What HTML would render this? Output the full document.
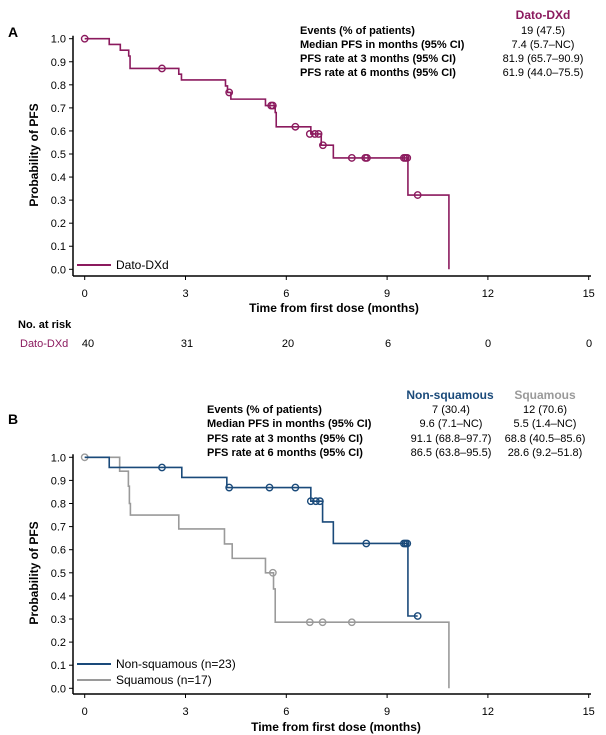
<!DOCTYPE html>
<html><head><meta charset="utf-8"><style>
html,body{margin:0;padding:0;background:#fff}
svg{display:block;font-family:"Liberation Sans",Arial,sans-serif}
.b{font-weight:bold}
</style></head><body>
<svg id="s" width="606" height="735" viewBox="0 0 606 735" xmlns="http://www.w3.org/2000/svg">
<rect width="606" height="735" fill="#fff"/>
<!-- Panel A -->
<text x="8" y="37" font-size="14" class="b">A</text>
<text x="543" y="19" font-size="12" class="b" fill="#8b1a5e" text-anchor="middle">Dato-DXd</text>
<g font-size="11" class="b">
<text x="300" y="34">Events (% of patients)</text>
<text x="300" y="48">Median PFS in months (95% CI)</text>
<text x="300" y="62">PFS rate at 3 months (95% CI)</text>
<text x="300" y="76">PFS rate at 6 months (95% CI)</text>
</g>
<g font-size="11" text-anchor="middle">
<text x="543" y="34">19 (47.5)</text>
<text x="543" y="48">7.4 (5.7–NC)</text>
<text x="543" y="62">81.9 (65.7–90.9)</text>
<text x="543" y="76">61.9 (44.0–75.5)</text>
</g>
<g id="axA"></g>
<text x="38" y="155" font-size="12" class="b" text-anchor="middle" transform="rotate(-90 38 155)">Probability of PFS</text>
<text x="334" y="312" font-size="12" class="b" text-anchor="middle">Time from first dose (months)</text>
<line x1="77" y1="265" x2="111" y2="265" stroke="#8b1a5e" stroke-width="2"/>
<text x="116" y="269" font-size="12">Dato-DXd</text>
<text x="18" y="328" font-size="11" class="b">No. at risk</text>
<text x="20" y="347" font-size="11" fill="#8b1a5e">Dato-DXd</text>
<g font-size="11" text-anchor="middle">
<text x="88" y="347">40</text><text x="187" y="347">31</text><text x="288" y="347">20</text>
<text x="388" y="347">6</text><text x="488" y="347">0</text><text x="589" y="347">0</text>
</g>
<!-- Panel B -->
<text x="8" y="424" font-size="14" class="b">B</text>
<text x="450" y="399" font-size="12" class="b" fill="#1a4a7a" text-anchor="middle">Non-squamous</text>
<text x="545" y="399" font-size="12" class="b" fill="#9a9a9a" text-anchor="middle">Squamous</text>
<g font-size="11" class="b">
<text x="207" y="413">Events (% of patients)</text>
<text x="207" y="427">Median PFS in months (95% CI)</text>
<text x="207" y="442">PFS rate at 3 months (95% CI)</text>
<text x="207" y="456">PFS rate at 6 months (95% CI)</text>
</g>
<g font-size="11" text-anchor="middle">
<text x="451" y="413">7 (30.4)</text><text x="545" y="413">12 (70.6)</text>
<text x="451" y="427">9.6 (7.1–NC)</text><text x="545" y="427">5.5 (1.4–NC)</text>
<text x="451" y="442">91.1 (68.8–97.7)</text><text x="545" y="442">68.8 (40.5–85.6)</text>
<text x="451" y="456">86.5 (63.8–95.5)</text><text x="545" y="456">28.6 (9.2–51.8)</text>
</g>
<g id="axB"></g>
<text x="38" y="573" font-size="12" class="b" text-anchor="middle" transform="rotate(-90 38 573)">Probability of PFS</text>
<text x="336" y="731" font-size="12" class="b" text-anchor="middle">Time from first dose (months)</text>
<line x1="77" y1="664" x2="111" y2="664" stroke="#1a4a7a" stroke-width="2"/>
<text x="116" y="668" font-size="12">Non-squamous (n=23)</text>
<line x1="77" y1="680" x2="111" y2="680" stroke="#9a9a9a" stroke-width="2"/>
<text x="116" y="684" font-size="12">Squamous (n=17)</text>
</svg>
<script>
var NS="http://www.w3.org/2000/svg";
function el(p,t,a){var e=document.createElementNS(NS,t);for(var k in a)e.setAttribute(k,a[k]);p.appendChild(e);return e;}
function axes(g,y1,y0,ab){
  var X=function(m){return 84.7+33.6*m;},Y=function(v){return y0-(y0-y1)*v;};
  el(g,"line",{x1:73,y1:y1-3,x2:73,y2:ab,stroke:"#000","stroke-width":1.5});
  el(g,"line",{x1:73,y1:ab,x2:591,y2:ab,stroke:"#000","stroke-width":1.5});
  for(var i=0;i<=10;i++){var y=Y(i/10);
    el(g,"line",{x1:69,y1:y,x2:73,y2:y,stroke:"#000","stroke-width":1});
    var t=el(g,"text",{x:66,y:y+4,"font-size":11,"text-anchor":"end"});t.textContent=(i/10).toFixed(1);}
  for(var m=0;m<=15;m+=3){var x=X(m);
    el(g,"line",{x1:x,y1:ab,x2:x,y2:ab+4,stroke:"#000","stroke-width":1});
    var t=el(g,"text",{x:x,y:ab+21,"font-size":11,"text-anchor":"middle"});t.textContent=m;}
  return [X,Y];
}
function curve(g,f,steps,end,cens,col){
  var X=f[0],Y=f[1],v=1,d="M"+X(0)+","+Y(1);
  steps.forEach(function(s){d+="H"+X(s[0])+"V"+Y(s[1]);v=s[1];});
  d+="H"+X(end);
  el(g,"path",{d:d,fill:"none",stroke:col,"stroke-width":1.6});
  cens.forEach(function(c){el(g,"circle",{cx:X(c[0]),cy:Y(c[1]),r:3.2,fill:"none",stroke:col,"stroke-width":1.4});});
}
var gA=document.getElementById("axA"),fA=axes(gA,38.7,269.3,276);
curve(gA,fA,[[0.73,0.975],[1.06,0.95],[1.31,0.925],[1.35,0.871],[2.8,0.846],[2.88,0.821],[4.19,0.795],[4.25,0.767],[4.35,0.738],[5.38,0.71],[5.67,0.68],[5.7,0.618],[6.73,0.587],[7.04,0.538],[7.4,0.483],[9.62,0.322],[10.84,0]],10.84,
[[0,1],[2.3,0.871],[4.3,0.767],[5.55,0.71],[5.6,0.71],[6.27,0.618],[6.7,0.587],[6.85,0.587],[6.96,0.587],[7.09,0.538],[7.95,0.483],[8.35,0.483],[8.4,0.483],[9.5,0.483],[9.55,0.483],[9.6,0.483],[9.91,0.322]],"#8b1a5e");
var gB=document.getElementById("axB"),fB=axes(gB,457.3,688.3,694);
curve(gB,fB,[[1.04,0.94],[1.3,0.875],[1.33,0.8],[1.36,0.75],[2.8,0.69],[4.16,0.625],[4.39,0.5625],[5.38,0.5],[5.62,0.43],[5.67,0.286],[10.84,0]],10.84,
[[0,1],[5.6,0.5],[6.7,0.286],[7.08,0.286],[7.95,0.286]],"#9a9a9a");
curve(gB,fB,[[0.73,0.956],[2.89,0.913],[4.23,0.869],[6.73,0.81],[7.08,0.72],[7.4,0.627],[9.62,0.313]],9.91,
[[2.3,0.956],[4.3,0.869],[5.5,0.869],[6.27,0.869],[6.73,0.81],[6.88,0.81],[7.0,0.81],[8.38,0.627],[9.5,0.627],[9.55,0.627],[9.6,0.627],[9.91,0.313]],"#1a4a7a");
</script>
</body></html>
